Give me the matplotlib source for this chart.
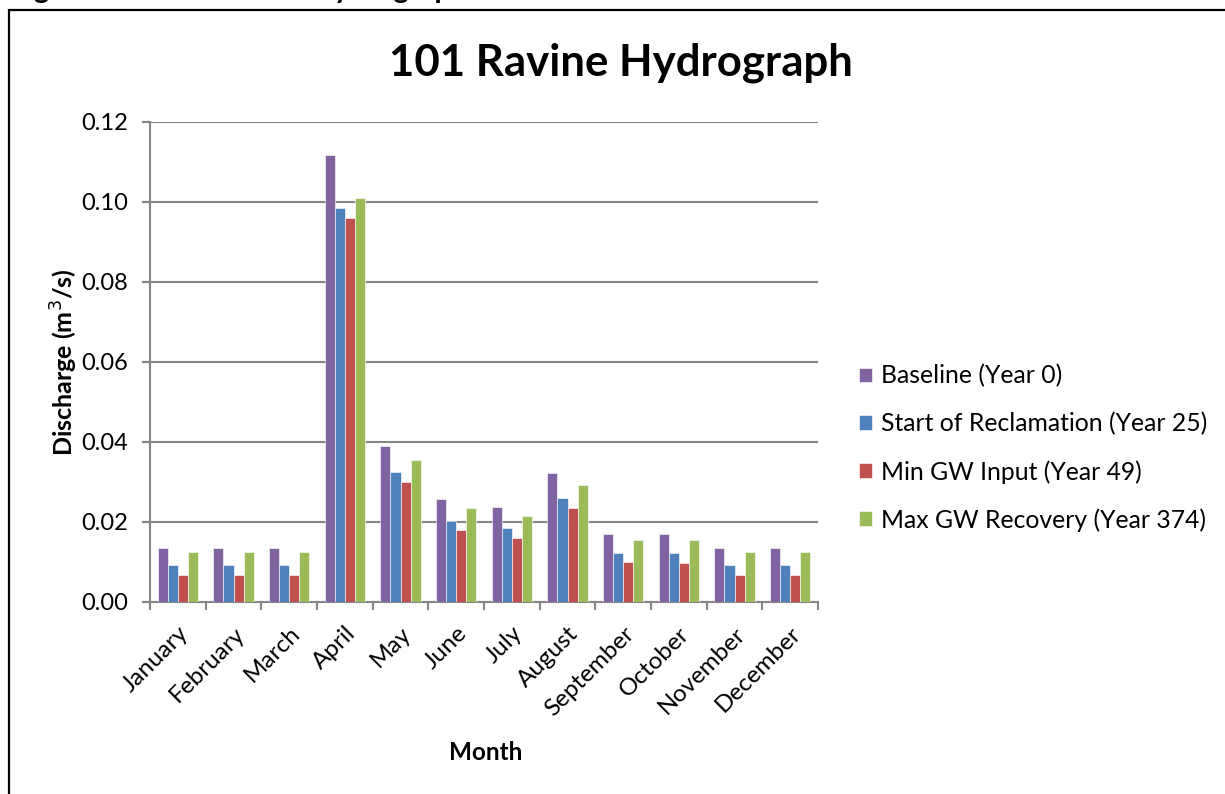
import matplotlib
matplotlib.use("Agg")
import matplotlib.pyplot as plt
import numpy as np
from matplotlib.patches import Rectangle

months = ["January", "February", "March", "April", "May", "June", "July",
          "August", "September", "October", "November", "December"]
series_names = ["Baseline (Year 0)", "Start of Reclamation (Year 25)",
                "Min GW Input (Year 49)", "Max GW Recovery (Year 374)"]
baseline = [0.0136, 0.0136, 0.0136, 0.1118, 0.0391, 0.0258, 0.0237, 0.0322, 0.0170, 0.0169, 0.0135, 0.0135]
start_reclamation = [0.0093, 0.0093, 0.0093, 0.0984, 0.0324, 0.0203, 0.0185, 0.0261, 0.0123, 0.0123, 0.0093, 0.0093]
min_gw_input = [0.0068, 0.0068, 0.0068, 0.0959, 0.0299, 0.0179, 0.0160, 0.0236, 0.0099, 0.0098, 0.0067, 0.0067]
max_gw_recovery = [0.0124, 0.0124, 0.0124, 0.1010, 0.0354, 0.0235, 0.0216, 0.0292, 0.0155, 0.0155, 0.0124, 0.0124]
colors = ["#8064A2", "#4F81BD", "#C0504D", "#9BBB59"]
yticks = [0.00, 0.02, 0.04, 0.06, 0.08, 0.10, 0.12]

plt.rcParams["font.family"] = ["Lato", "DejaVu Sans"]

fig = plt.figure(figsize=(12.25, 7.94), dpi=100)
ax = fig.add_axes([150 / 1225, 1 - 602 / 794, 668 / 1225, 480 / 794])

# frame around the chart area, running off the right and bottom edges
fig.patches.append(Rectangle((9 / 1225, -0.1), 1.2, 1 - 10 / 794 + 0.1,
                             transform=fig.transFigure, fill=False,
                             edgecolor="black", linewidth=1.6))
# caption line above the frame, mostly cut off by the page edge
fig.text(10 / 1225, 1 + 2 / 794, "Figure 4-2: 101 Ravine Hydrograph",
         fontsize=21, fontweight="bold", ha="left", va="baseline")

x = np.arange(len(months))
width = 0.18
data = [baseline, start_reclamation, min_gw_input, max_gw_recovery]
for i, (vals, name, c) in enumerate(zip(data, series_names, colors)):
    ax.bar(x + (i - 1.5) * width, vals, width, color=c, label=name,
           edgecolor=(1, 1, 1, 0.6), linewidth=0.7, zorder=3)

ax.set_xlim(-0.5, 11.5)
ax.set_ylim(0, 0.12)
ax.set_yticks(yticks)
ax.set_yticklabels([f"{v:.2f}" for v in yticks], fontsize=17)
ax.yaxis.grid(True, color="#868686", linewidth=1.5, zorder=0)
ax.set_axisbelow(True)

ax.set_xticks(np.arange(-0.5, 12, 1.0))
ax.set_xticklabels([])
ax.set_xticks(x, minor=True)
ax.set_xticklabels(months, minor=True, rotation=45, ha="right",
                   rotation_mode="anchor", fontsize=17.5)
ax.tick_params(axis="x", which="minor", length=0, pad=15)
ax.tick_params(axis="x", which="major", length=6, width=1.5, color="#868686")
ax.tick_params(axis="y", length=6, width=1.5, color="#868686", pad=10)

for s in ["top", "right"]:
    ax.spines[s].set_visible(False)
for s in ["left", "bottom"]:
    ax.spines[s].set_color("#868686")
    ax.spines[s].set_linewidth(1.5)

ax.set_ylabel("Discharge (m$^3$/s)", fontsize=18, fontweight="bold", labelpad=1)
fig.text(486 / 1225, 1 - 752 / 794, "Month", fontsize=17.5, fontweight="bold",
         ha="center", va="center")
fig.text(621 / 1225, 1 - 63 / 794, "101 Ravine Hydrograph", fontsize=31.5,
         fontweight="bold", ha="center", va="center")

ax.legend(loc="center left", bbox_to_anchor=(849 / 1225, 1 - 448 / 794),
          bbox_transform=fig.transFigure, frameon=False, fontsize=17.8,
          handlelength=0.55, handleheight=0.55, handletextpad=0.35,
          labelspacing=0.99, borderaxespad=0)

fig.savefig("out.png", dpi=100)
